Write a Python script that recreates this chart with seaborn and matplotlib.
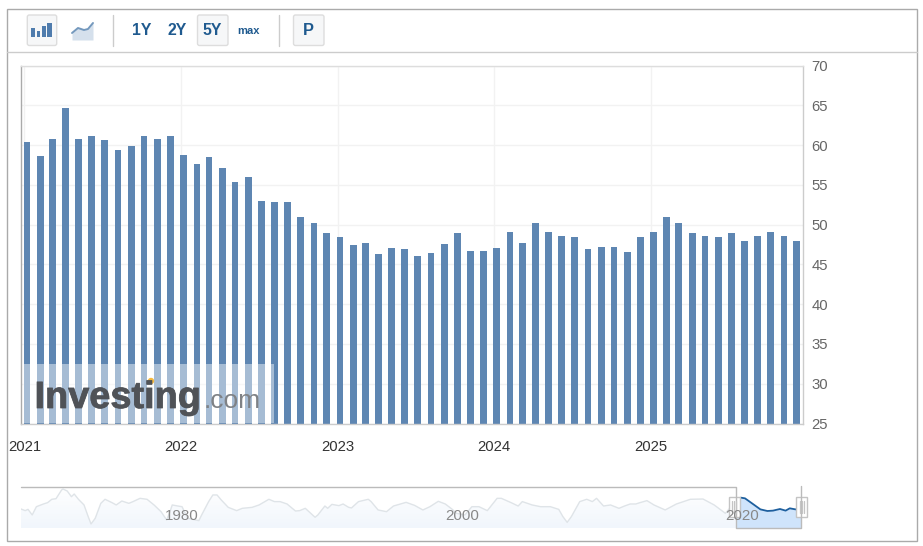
import matplotlib
matplotlib.use("Agg")
import matplotlib.dates as mdates
import matplotlib.pyplot as plt
import matplotlib.patheffects as pe
from matplotlib.patches import FancyBboxPatch, Rectangle, Circle
import numpy as np
import pandas as pd
import seaborn as sns

# Monthly index readings, five-year window
pmi_values = [
    60.4, 58.6, 60.8, 64.6, 60.7, 61.1, 60.6, 59.4, 59.9, 61.1, 60.8, 61.1,
    58.8, 57.6, 58.5, 57.1, 55.3, 56.0, 53.0, 52.8, 52.8, 50.9, 50.2, 49.0,
    48.4, 47.4, 47.7, 46.3, 47.0, 46.9, 46.0, 46.4, 47.6, 48.9, 46.7, 46.7,
    47.0, 49.1, 47.7, 50.2, 49.1, 48.6, 48.4, 46.9, 47.2, 47.2, 46.5, 48.4,
    49.1, 50.9, 50.2, 49.0, 48.6, 48.4, 49.0, 47.9, 48.6, 49.1, 48.6, 48.0,
]
year_labels = ["2021", "2022", "2023", "2024", "2025"]
y_ticks = [25, 30, 35, 40, 45, 50, 55, 60, 65, 70]

# Long-run overview series shown in the range selector
history_pos = [
    1968.5, 1968.8, 1969.0, 1969.3, 1969.6, 1970.1, 1970.4, 1970.7, 1971.0, 1971.4,
    1971.5, 1971.8, 1972.1, 1972.3, 1972.6, 1973.0, 1973.3, 1973.5, 1973.8, 1974.2,
    1974.5, 1975.0, 1975.3, 1975.7, 1976.2, 1976.5, 1977.0, 1977.5, 1978.0, 1978.5,
    1978.9, 1979.1, 1979.3, 1979.7, 1980.0, 1980.4, 1981.2, 1981.4, 1981.9, 1982.2,
    1982.5, 1982.8, 1983.3, 1983.9, 1984.3, 1985.0, 1985.5, 1986.2, 1986.6, 1987.0,
    1987.5, 1988.1, 1988.4, 1988.8, 1989.5, 1989.7, 1990.2, 1990.4, 1990.7, 1991.2,
    1991.5, 1991.9, 1992.1, 1992.6, 1993.3, 1993.5, 1994.0, 1994.6, 1995.1, 1996.0,
    1996.6, 1997.2, 1997.7, 1998.3, 1998.8, 1999.3, 1999.6, 2000.2, 2000.7, 2001.2,
    2001.8, 2002.5, 2002.8, 2003.5, 2004.0, 2004.3, 2005.0, 2005.6, 2006.3, 2006.9,
    2007.2, 2007.5, 2007.8, 2008.4, 2008.9, 2009.3, 2009.6, 2010.1, 2010.6, 2011.2,
    2011.6, 2012.0, 2012.4, 2012.7, 2013.2, 2013.7, 2014.5, 2015.3, 2016.3, 2017.2,
    2018.0, 2018.8, 2019.6,
]
history_idx = [
    50.1, 47.9, 49.6, 42.1, 53.2, 56.8, 58.6, 63.1, 63.9, 75.6,
    76.9, 74.2, 66.6, 70.2, 63.1, 55.5, 39.8, 30.0, 37.6, 57.7,
    63.1, 58.6, 55.5, 60.8, 57.7, 60.0, 64.4, 63.1, 55.5, 46.5,
    35.4, 44.3, 55.5, 54.1, 53.2, 37.6, 34.5, 42.1, 60.0, 68.9,
    68.9, 62.2, 52.3, 47.9, 51.0, 52.3, 55.5, 63.1, 60.0, 60.0,
    56.8, 47.4, 47.9, 51.0, 39.0, 42.1, 54.1, 51.0, 56.3, 54.6,
    56.8, 52.3, 51.5, 60.0, 63.1, 60.0, 48.8, 46.5, 54.1, 59.0,
    55.0, 48.8, 53.2, 60.4, 56.8, 49.6, 44.3, 42.1, 53.2, 53.2,
    47.9, 64.4, 64.4, 58.6, 54.1, 60.0, 55.5, 53.2, 53.2, 49.6,
    39.8, 32.2, 39.8, 60.0, 63.1, 60.0, 64.4, 54.1, 55.5, 51.0,
    54.1, 56.8, 56.8, 58.6, 61.3, 55.5, 48.8, 56.8, 63.1, 63.5,
    55.5, 44.3, 62.0,
]
window_pos = [2019.6, 2019.9, 2020.2, 2020.7, 2021.3, 2021.8, 2022.2, 2022.7, 2023.1, 2023.4, 2023.8, 2024.2]
window_idx = [62.0, 65.3, 64.4, 57.7, 49.6, 47.4, 47.9, 50.1, 47.9, 51.0, 49.6, 49.0]
nav_years = [1980, 2000, 2020]

BAR = "#5e86b2"
INK = "#1f5a8f"
W, H = 923, 546

sns.set_style("white")
plt.rcParams["font.family"] = ["Liberation Sans", "DejaVu Sans"]

fig = plt.figure(figsize=(W / 100, H / 100), dpi=100, facecolor="white")


def px_axes(x0, y0, x1, y1, **kw):
    return fig.add_axes([x0 / W, 1 - y1 / H, (x1 - x0) / W, (y1 - y0) / H], **kw)


# --- main bar panel ---
ax = px_axes(21, 65.5, 803, 423.5)
dates = pd.date_range("2021-01-01", periods=len(pmi_values), freq="MS") + pd.Timedelta(days=6)
frame = pd.DataFrame({"when": mdates.date2num(dates), "value": pmi_values})
sns.barplot(data=frame, x="when", y="value", native_scale=True, width=0.56,
            color=BAR, saturation=1, linewidth=0, ax=ax)

per_day = 0.4288
start = mdates.date2num(pd.Timestamp("2021-01-01"))
ax.set_xlim(start + (21 - 24.5) / per_day, start + (803 - 24.5) / per_day)
ax.set_ylim(25, 70)
ax.set_xticks([mdates.date2num(pd.Timestamp(f"{y}-01-01")) for y in year_labels])
ax.set_xticklabels(year_labels)
ax.set_yticks(y_ticks)
ax.set_xlabel("")
ax.set_ylabel("")
ax.set_axisbelow(True)
ax.grid(True, color="#f2f2f2", linewidth=1)
ax.yaxis.tick_right()
ax.tick_params(axis="y", length=0, pad=6, labelsize=10.7, labelcolor="#666666")
ax.tick_params(axis="x", length=0, pad=12, labelsize=10.7, labelcolor="#333333")
for side, col in {"left": "#aaaaaa", "bottom": "#cccccc", "top": "#dddddd", "right": "#cccccc"}.items():
    ax.spines[side].set_visible(True)
    ax.spines[side].set_color(col)
    ax.spines[side].set_linewidth(1)

# --- range selector ---
nav = px_axes(21, 487, 801, 528)
nav.axis("off")
nav_left, nav_right = 1968.5, 2024.2
# Pale vertical fade under the long-run curve
fade = np.linspace(0, 1, 64).reshape(-1, 1)
fade_img = nav.imshow(fade, extent=(nav_left, nav_right, 24.6, 79.6), aspect="auto", origin="upper",
                      cmap=matplotlib.colors.LinearSegmentedColormap.from_list("fade", ["#ffffff", "#f1f6fc"]))
under = nav.fill_between(history_pos, history_idx, 24.6, color="none", linewidth=0)
fade_img.set_clip_path(under.get_paths()[0], transform=nav.transData)
sns.lineplot(x=history_pos, y=history_idx, color="#dfe4e8", linewidth=1, ax=nav, legend=False)
nav.fill_between(window_pos, window_idx, 24.6, color="#cfe4fb", linewidth=0)
sns.lineplot(x=window_pos, y=window_idx, color="#1d5f9e", linewidth=1.3, ax=nav, legend=False)
nav.set_xlim(nav_left, nav_right)
nav.set_ylim(24.6, 79.6)

# --- page chrome in pixel coordinates ---
ui = fig.add_axes([0, 0, 1, 1], zorder=10, facecolor="none")
ui.set_xlim(0, W)
ui.set_ylim(H, 0)
ui.axis("off")

ui.add_patch(Rectangle((6.5, 8.5), 910.5, 532.5, fill=False, edgecolor="#aaaaaa", linewidth=1))
ui.plot([6.5, 917], [51.5, 51.5], color="#cccccc", linewidth=1)
for sx in (112.5, 278.5):
    ui.plot([sx, sx], [15, 45.5], color="#cccccc", linewidth=1)


def button(x0, x1):
    ui.add_patch(FancyBboxPatch((x0 + 2, 17), x1 - x0 - 4, 26.5, boxstyle="round,pad=2",
                                facecolor="#f6f7f8", edgecolor="#dddddd", linewidth=1))


button(27.3, 56.7)
button(197.5, 228)
button(293.5, 324)

for bx, top, bw in zip((30.7, 36.6, 41.5, 46.7), (28.3, 30.7, 26, 22.7), (4.5, 3.5, 4, 5)):
    ui.add_patch(Rectangle((bx, top), bw, 37.3 - top, facecolor="#4f7cad", linewidth=0))

icon_x = [72, 78, 84, 88, 93]
icon_y = [33, 28, 30, 29, 23]
ui.fill_between(icon_x, icon_y, 40, color="#d5e0ec", linewidth=0)
ui.plot(icon_x, icon_y, color="#7398bd", linewidth=1.4)

for label, cx, size in (("1Y", 142, 11.4), ("2Y", 177, 11.4), ("5Y", 212.5, 11.4),
                        ("max", 248, 8), ("P", 308, 11.8)):
    ui.text(cx, 30.5, label, color=INK, fontsize=size, fontweight="bold", ha="center", va="center")

# Watermark over the first bars
ui.add_patch(Rectangle((23, 364), 251, 59, facecolor="white", alpha=0.45, linewidth=0))
ui.text(34.5, 408, "Investing", fontsize=27.3, fontweight="bold", color="#4f5257", alpha=0.92,
        ha="left", va="baseline", path_effects=[pe.withStroke(linewidth=0.6, foreground="#4f5257")])
ui.text(203.5, 408, ".com", fontsize=19.0, color="#7f8286", ha="left", va="baseline")
ui.add_patch(Circle((151, 381), 3.2, facecolor="#f5b93f", linewidth=0))

# Selector frame and handles
ui.plot([21, 736, 736, 801, 801], [487, 487, 528, 528, 486], color="#bbbbbb", linewidth=1)
for year in nav_years:
    ui.text(182 + (year - 1980) * 14, 516.5, str(year), color="#888888", fontsize=10.9,
            ha="center", va="center")
for hx in (728.5, 796):
    ui.add_patch(Rectangle((hx, 497), 11, 20, facecolor="white", edgecolor="#c4c4c4", linewidth=1))
    for dx in (3.5, 5.5, 7.5):
        ui.plot([hx + dx, hx + dx], [501, 513], color="#c4c4c4", linewidth=0.9)

fig.savefig("out.png", dpi=100, facecolor="white")
